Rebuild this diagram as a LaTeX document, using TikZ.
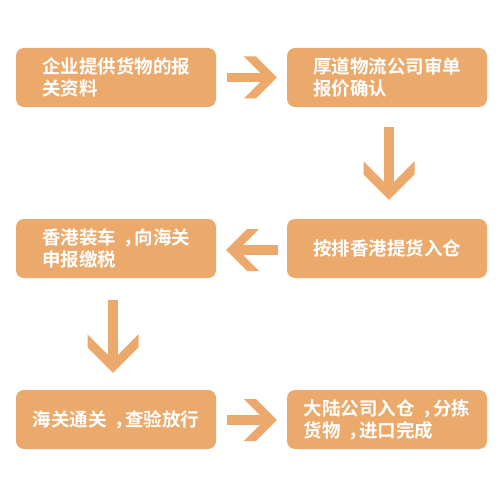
\documentclass[tikz,border=0pt]{standalone}
\usepackage{fontspec}
\newfontfamily\cjk{Noto Sans CJK SC}[BoldFont={Noto Sans CJK SC Bold}]
\usetikzlibrary{calc}
\definecolor{og}{RGB}{235,169,107}
\newcommand\zcomma{\hspace{0.4em}，\hspace{-0.4em}}
\tikzset{
  box/.style={fill=og, rounded corners=8pt, minimum width=200pt, minimum height=59pt,
    inner sep=0pt, text=white, align=left,
    font=\cjk\bfseries\fontsize{18.5}{22}\selectfont},
  shaft/.style={draw=og, line width=9.6pt},
  hchev/.pic={\fill[og] (0,0) -- (-21,-21) -- (-33,-21) -- (-12,0) -- (-33,21) -- (-21,21) -- cycle;},
  vchev/.pic={\fill[og] (0,0) -- (-25.5,-25.5) -- (-38.5,-25.5) -- (-13,0) -- (-38.5,25.5) -- (-25.5,25.5) -- cycle;}
}
\begin{document}
\begin{tikzpicture}[x=1pt,y=-1pt]
\useasboundingbox[fill=white] (0,0) rectangle (500,500);
\node[box] (b1) at (116,77.5) {企业提供货物的报\\关资料};
\node[box] (b2) at (387,77.5) {厚道物流公司审单\\报价确认};
\node[box] (b3) at (116,248.5) {香港装车\zcomma 向海关\\申报缴税};
\node[box] (b4) at (387,248.5) {按排香港提货入仓};
\node[box] (b5) at (116,419.5) {海关通关\zcomma 查验放行};
\node[box] (b6) at (387,419.5) {大陆公司入仓\zcomma 分拣\\货物\zcomma 进口完成};
% b1 -> b2
\draw[shaft] ($(b1.east)+(11,0)$) -- ($(b2.west)+(-18,0)$);
\pic at ($(b2.west)+(-10,0)$) {hchev};
% b2 -> b4
\draw[shaft] ($(b2.south)+(2,20)$) -- ($(b4.north)+(2,-28)$);
\pic[rotate=-90] at ($(b4.north)+(2,-19)$) {vchev};
% b4 -> b3
\draw[shaft] ($(b4.west)+(-9,1.5)$) -- ($(b3.east)+(18,1.5)$);
\pic[rotate=180] at ($(b3.east)+(10,1.5)$) {hchev};
% b3 -> b5
\draw[shaft] ($(b3.south)+(-3,22)$) -- ($(b5.north)+(-3,-26)$);
\pic[rotate=-90] at ($(b5.north)+(-3,-17)$) {vchev};
% b5 -> b6
\draw[shaft] ($(b5.east)+(11,0.5)$) -- ($(b6.west)+(-18,0.5)$);
\pic at ($(b6.west)+(-10,0.5)$) {hchev};
\end{tikzpicture}
\end{document}
